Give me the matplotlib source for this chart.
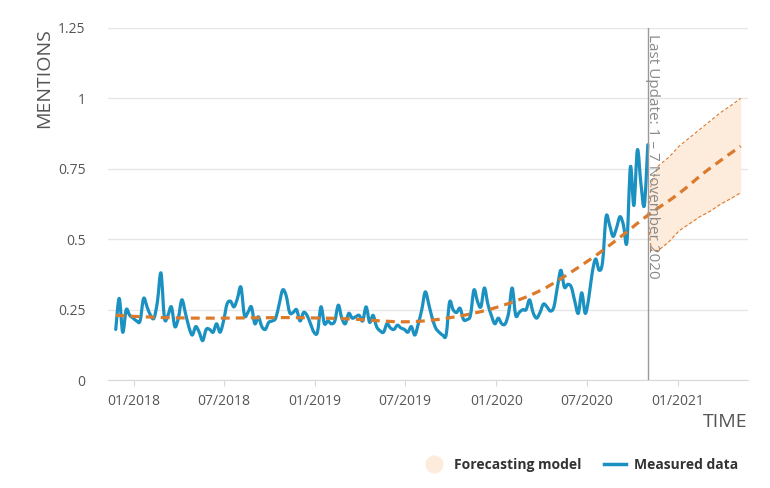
import matplotlib
matplotlib.use('Agg')
import numpy as np
import pandas as pd
import matplotlib.pyplot as plt
import matplotlib.dates as mdates
from matplotlib.lines import Line2D
from matplotlib.path import Path
from matplotlib.patches import PathPatch

plt.rcParams['font.family'] = ['Open Sans', 'DejaVu Sans']

# Weekly measured mentions (first week starts 2017-11-26)
measured_start = '2017-11-26'
measured_values = [
    0.18, 0.29, 0.17, 0.25, 0.23, 0.22, 0.21, 0.21, 0.29, 0.26,
    0.23, 0.22, 0.28, 0.38, 0.22, 0.23, 0.26, 0.19, 0.22, 0.285,
    0.24, 0.19, 0.16, 0.19, 0.17, 0.14, 0.18, 0.18, 0.17, 0.20,
    0.17, 0.21, 0.27, 0.28, 0.26, 0.29, 0.33, 0.23, 0.24, 0.26,
    0.20, 0.225, 0.19, 0.18, 0.205, 0.21, 0.22, 0.27, 0.32, 0.30,
    0.24, 0.24, 0.25, 0.21, 0.24, 0.23, 0.20, 0.17, 0.17, 0.26,
    0.20, 0.21, 0.20, 0.21, 0.266, 0.22, 0.20, 0.237, 0.22, 0.225,
    0.23, 0.21, 0.26, 0.205, 0.23, 0.19, 0.175, 0.17, 0.20, 0.185,
    0.18, 0.195, 0.185, 0.18, 0.17, 0.19, 0.16, 0.20, 0.25, 0.313,
    0.27, 0.22, 0.185, 0.17, 0.16, 0.16, 0.277, 0.25, 0.24, 0.255,
    0.215, 0.215, 0.23, 0.32, 0.28, 0.26, 0.327, 0.27, 0.23, 0.20,
    0.22, 0.20, 0.20, 0.24, 0.327, 0.23, 0.24, 0.25, 0.25, 0.285,
    0.24, 0.22, 0.24, 0.27, 0.26, 0.245, 0.26, 0.33, 0.39, 0.33,
    0.34, 0.33, 0.28, 0.237, 0.31, 0.237, 0.29, 0.38, 0.43, 0.39,
    0.42, 0.58, 0.55, 0.51, 0.54, 0.58, 0.55, 0.49, 0.757, 0.62,
    0.817, 0.70, 0.62, 0.835,
]

# Forecasting model trend
trend_dates = ['2017-11-26', '2018-03-01', '2018-07-01', '2018-11-01', '2019-03-01',
               '2019-07-01', '2019-10-01', '2020-01-01', '2020-04-01', '2020-07-01',
               '2020-09-01', '2020-11-01', '2021-01-01', '2021-03-01', '2021-05-07']
trend_values = [0.23, 0.222, 0.22, 0.222, 0.218,
                0.207, 0.222, 0.258, 0.32, 0.42,
                0.50, 0.585, 0.66, 0.745, 0.83]

# Forecast confidence band
band_dates = ['2020-11-01', '2020-11-08', '2020-11-22', '2020-12-13', '2021-01-03',
              '2021-01-24', '2021-02-14', '2021-03-07', '2021-03-28', '2021-04-18',
              '2021-05-07']
band_upper = [0.585, 0.70, 0.76, 0.79, 0.83, 0.86, 0.89, 0.92, 0.95, 0.975, 1.0]
band_lower = [0.585, 0.46, 0.46, 0.49, 0.53, 0.555, 0.58, 0.60, 0.625, 0.645, 0.665]

y_ticks = [0, 0.25, 0.5, 0.75, 1, 1.25]
y_tick_labels = ['0', '0.25', '0.5', '0.75', '1', '1.25']
x_tick_dates = ['2018-01-01', '2018-07-01', '2019-01-01', '2019-07-01',
                '2020-01-01', '2020-07-01', '2021-01-01']
x_tick_labels = ['01/2018', '07/2018', '01/2019', '07/2019', '01/2020', '07/2020', '01/2021']
last_update = '2020-11-01'

blue = '#1b91c2'
orange = '#dc7a2c'
peach = '#fdebdc'


def spline_path(xs, ys):
    # smooth curve through the points (Catmull-Rom as cubic Bezier segments)
    pts = np.column_stack([xs, ys])
    ext = np.vstack([pts[0], pts, pts[-1]])
    verts = [pts[0]]
    codes = [Path.MOVETO]
    for i in range(1, len(ext) - 2):
        p0, p1, p2, p3 = ext[i - 1], ext[i], ext[i + 1], ext[i + 2]
        verts += [p1 + (p2 - p0) / 6, p2 - (p3 - p1) / 6, p2]
        codes += [Path.CURVE4] * 3
    return Path(verts, codes)


def to_num(dates):
    return mdates.date2num(pd.to_datetime(dates).to_pydatetime())


measured_dates = pd.date_range(measured_start, periods=len(measured_values), freq='7D')

fig = plt.figure(figsize=(7.7, 4.88), dpi=100)
ax = fig.add_axes([0.140, 0.221, 0.831, 0.722])

bd = pd.to_datetime(band_dates)
ax.fill_between(bd, band_lower, band_upper, color=peach, lw=0, zorder=1)
ax.plot(bd, band_upper, color=orange, lw=0.8, dashes=(3, 2), zorder=2)
ax.plot(bd, band_lower, color=orange, lw=0.8, dashes=(3, 2), zorder=2)

ax.add_patch(PathPatch(spline_path(to_num(measured_dates), measured_values), fill=False,
                       edgecolor=blue, lw=2.3, joinstyle='round', capstyle='round', zorder=3))
ax.add_patch(PathPatch(spline_path(to_num(trend_dates), trend_values), fill=False,
                       edgecolor=orange, lw=2.3, linestyle=(0, (2.8, 1.9)), zorder=4))

lu = pd.Timestamp(last_update)
ax.axvline(lu, color='#999999', lw=1, zorder=5)
ax.text(lu + pd.Timedelta(days=10), 1.228, 'Last Update: 1 \u2013 7 November 2020', rotation=-90,
        ha='center', va='top', fontsize=11, color='#8a8a8a', zorder=6)

ax.set_ylim(0, 1.25)
ax.set_xlim(pd.Timestamp('2017-11-10'), pd.Timestamp('2021-05-21'))
ax.set_yticks(y_ticks)
ax.set_yticklabels(y_tick_labels)
ax.set_xticks(pd.to_datetime(x_tick_dates))
ax.set_xticklabels(x_tick_labels)
ax.grid(axis='y', color='#e6e6e6', lw=1)
ax.set_axisbelow(True)
for s in ['top', 'right', 'left']:
    ax.spines[s].set_visible(False)
ax.spines['bottom'].set_color('#d8d8d8')
ax.tick_params(axis='y', length=0, pad=16, labelsize=10, labelcolor='#555555')
ax.tick_params(axis='x', length=4, color='#d8d8d8', pad=6, labelsize=10, labelcolor='#555555')

fig.text(0.057, 0.943, 'MENTIONS', rotation=90, ha='center', va='top', fontsize=14, color='#555555')
fig.text(0.971, 0.135, 'TIME', ha='right', va='center', fontsize=14, color='#555555')

handles = [
    Line2D([], [], marker='o', ls='none', markersize=12, markerfacecolor=peach, markeredgecolor=peach),
    Line2D([], [], color=blue, lw=2.5),
]
leg = fig.legend(handles, ['Forecasting model', 'Measured data'], loc='center right',
                 bbox_to_anchor=(0.975, 0.048), ncol=2, frameon=False, handlelength=1.6,
                 columnspacing=1.6, handletextpad=0.6, prop={'size': 10, 'weight': 'bold'})
for t in leg.get_texts():
    t.set_color('#333333')

fig.savefig('out.png', dpi=100)
